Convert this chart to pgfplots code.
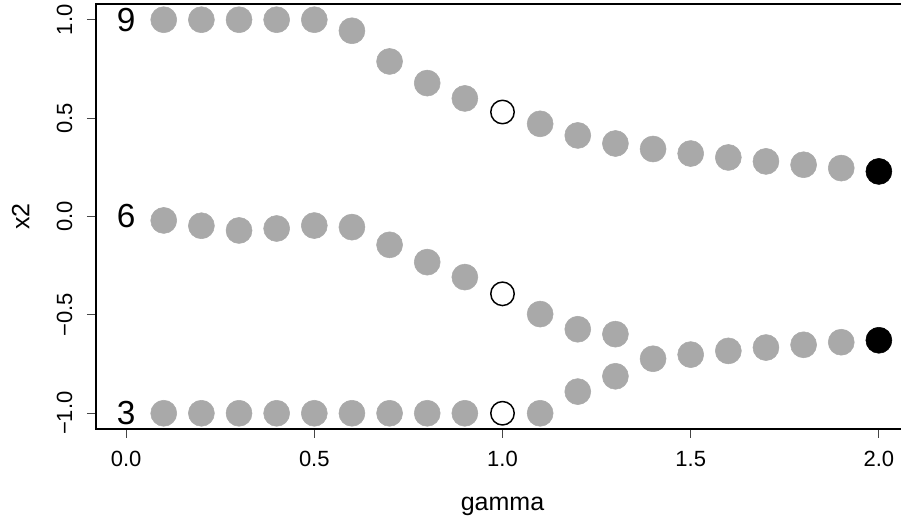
\documentclass[border=0pt]{standalone}
\usepackage{fontspec}
\setmainfont{Liberation Sans}
\usepackage{pgfplots}
\pgfplotsset{compat=1.18}
\definecolor{ptgray}{RGB}{169,169,169}
\definecolor{tickgray}{RGB}{70,70,70}

\begin{document}
\begin{tikzpicture}
\begin{axis}[
    scale only axis,
    width=609.75pt, height=318.75pt,
    xmin=-0.08, xmax=2.08,
    ymin=-1.08, ymax=1.08,
    axis line style={line width=1.6pt},
    tick align=outside,
    tick pos=left,
    major tick length=6.75pt,
    tick style={line width=0.75pt, tickgray},
    xtick={0,0.5,1,1.5,2},
    xticklabels={0.0,0.5,1.0,1.5,2.0},
    ytick={-1,-0.5,0,0.5,1},
    yticklabels={−1.0,−0.5,0.0,0.5,1.0},
    xticklabel style={font=\fontsize{16.5}{18}\selectfont, anchor=base, yshift=-21.6pt},
    yticklabel style={font=\fontsize{16.5}{18}\selectfont, xshift=-11.1pt, rotate=90, anchor=base},
    every axis x label/.style={at={(axis description cs:0.5,0)}, yshift=-61.5pt, anchor=base,
        font=\fontsize{18.75}{20}\selectfont},
    every axis y label/.style={at={(axis description cs:0,0.5)}, xshift=-50pt, rotate=90, anchor=base,
        font=\fontsize{18.75}{20}\selectfont},
    xlabel={gamma},
    ylabel={x2},
    clip=false,
]
% grey points, one branch at a time
\addplot [only marks, mark=*, mark size=9.75pt, ptgray, mark options={draw=ptgray, fill=ptgray}]
table {%
0.1 1
0.2 1
0.3 1
0.4 1
0.5 1
0.6 0.944
0.7 0.788
0.8 0.678
0.9 0.600
1.1 0.471
1.2 0.412
1.3 0.371
1.4 0.343
1.5 0.320
1.6 0.300
1.7 0.280
1.8 0.263
1.9 0.246
};
\addplot [only marks, mark=*, mark size=9.75pt, ptgray, mark options={draw=ptgray, fill=ptgray}]
table {%
0.1 -0.020
0.2 -0.047
0.3 -0.071
0.4 -0.061
0.5 -0.046
0.6 -0.054
0.7 -0.144
0.8 -0.232
0.9 -0.308
1.1 -0.496
1.2 -0.573
1.3 -0.598
};
\addplot [only marks, mark=*, mark size=9.75pt, ptgray, mark options={draw=ptgray, fill=ptgray}]
table {%
0.1 -1
0.2 -1
0.3 -1
0.4 -1
0.5 -1
0.6 -1
0.7 -1
0.8 -1
0.9 -1
1.1 -1
1.2 -0.890
1.3 -0.812
1.4 -0.723
1.5 -0.702
1.6 -0.683
1.7 -0.666
1.8 -0.652
1.9 -0.639
};
% gamma = 1
\addplot [only marks, mark=o, mark size=8.8pt, mark options={draw=black, line width=1.1pt}]
table {%
1 0.531
1 -0.393
1 -1
};
% gamma = 2
\addplot [only marks, mark=*, mark size=9.75pt, mark options={draw=black, fill=black}]
table {%
2 0.229
2 -0.629
};
\node [font=\fontsize{25}{27}\selectfont] at (axis cs:0,1) {9};
\node [font=\fontsize{25}{27}\selectfont] at (axis cs:0,0) {6};
\node [font=\fontsize{25}{27}\selectfont] at (axis cs:0,-1) {3};
\coordinate (O) at (rel axis cs:0,0);
\end{axis}
\pgfresetboundingbox
\path [use as bounding box] ([shift={(-72pt,-66pt)}]O) rectangle ([shift={(603.75pt,321.75pt)}]O);
\end{tikzpicture}
\end{document}
